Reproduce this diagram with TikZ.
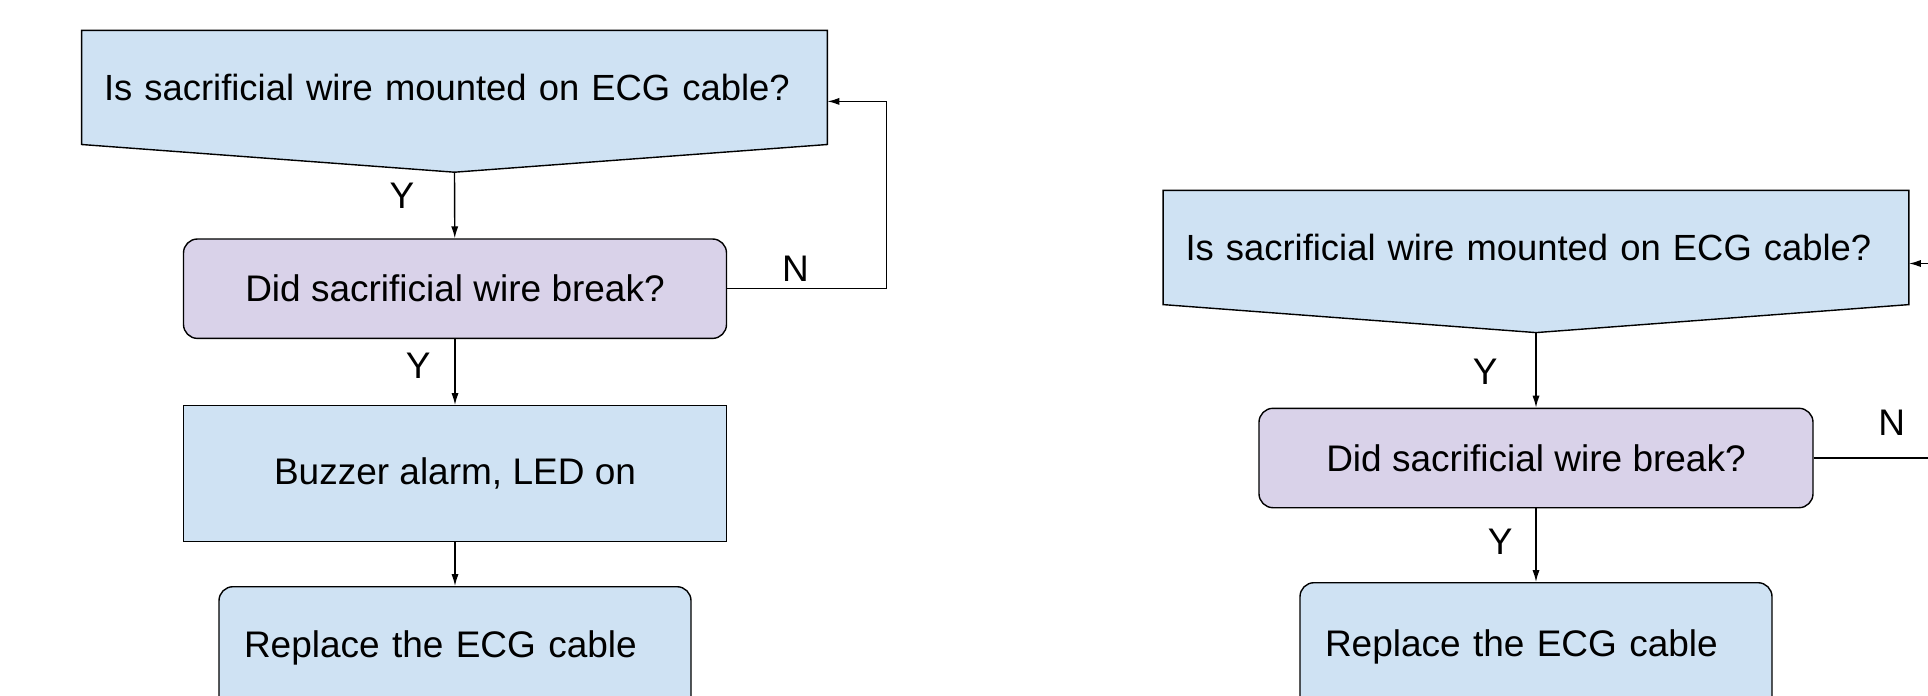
\documentclass[tikz,border=0pt]{standalone}
\usepackage{fontspec}
\setmainfont{Liberation Sans}
\usetikzlibrary{positioning, arrows.meta, calc, backgrounds}

\definecolor{boxblue}{HTML}{CFE2F3}
\definecolor{boxlilac}{HTML}{D9D2E9}

\begin{document}
\begin{tikzpicture}[
    x=0.5pt, y=-0.5pt,
    >={Latex[length=6pt,width=3.6pt]},
    font=\fontsize{18.5}{22}\selectfont,
    question/.style={
        text width=350.5pt, align=left, inner xsep=11pt, inner ysep=0pt,
        minimum height=56.7pt, font=\fontsize{18.2}{22}\selectfont,
    },
    pent/.style={draw, line width=0.7pt, fill=boxblue},
    decision/.style={
        draw, line width=0.7pt, fill=boxlilac, rounded corners=7pt,
        minimum height=49.7pt, inner sep=0pt,
    },
    action/.style={
        draw, line width=0.7pt, fill=boxblue,
        minimum width=271.5pt, minimum height=68pt, inner sep=0pt,
    },
    finish/.style={
        draw, line width=0.7pt, fill=boxblue, rounded corners=7pt,
        text width=211pt, inner xsep=12.5pt, inner ysep=0pt, align=left,
    },
    flow/.style={->, line width=0.7pt},
]

\useasboundingbox (0,0) rectangle (1928,696);
\clip (0,0) rectangle (1928,696);

\def\colL{455}
\def\colR{1536}

% left chart
\node[question] (q1) at (454.5,87.4) {Is sacrificial wire mounted on ECG cable?};
\coordinate (q1tip) at ($(q1.south)+(0,27.7)$);
\node[decision, minimum width=271.5pt] (d1) at (\colL,288.7) {Did sacrificial wire break?};
\node[action] (b1) at (\colL,473.7) {Buzzer alarm, LED on};
\node[finish, minimum height=61.5pt] (r1) at (\colL,648.2) {Replace the ECG cable};

\draw[flow] (q1tip) -- node[pos=0.35, left=16.5pt] {Y} (d1);
\draw[flow] (d1) -- node[pos=0.4, left=8.5pt] {Y} (b1);
\draw[flow] (b1) -- (r1);
\draw[flow] (d1.east) -- node[pos=0.43, above=0pt] {N} ++(159,0) |- ($(q1.east)+(0,14)$);

% right chart
\node[question] (q2) at (\colR,247.5) {Is sacrificial wire mounted on ECG cable?};
\coordinate (q2tip) at ($(q2.south)+(0,28)$);
\node[decision, minimum width=277pt] (d2) at (\colR,458) {Did sacrificial wire break?};
\node[finish, minimum height=64pt] (r2) at (\colR,646.7) {Replace the ECG cable};

\draw[flow] (q2tip) -- node[pos=0.52, left=15.5pt] {Y} (d2);
\draw[flow] (d2) -- node[pos=0.45, left=8pt] {Y} (r2);
\draw[flow] (d2.east) -- node[pos=0.49, above=7.5pt] {N} ++(159,0) |- ($(q2.east)+(0,16)$);

\begin{scope}[on background layer]
    \draw[pent] (q1.north west) -- (q1.north east) -- (q1.south east) -- (q1tip) -- (q1.south west) -- cycle;
    \draw[pent] (q2.north west) -- (q2.north east) -- (q2.south east) -- (q2tip) -- (q2.south west) -- cycle;
\end{scope}

\end{tikzpicture}
\end{document}
